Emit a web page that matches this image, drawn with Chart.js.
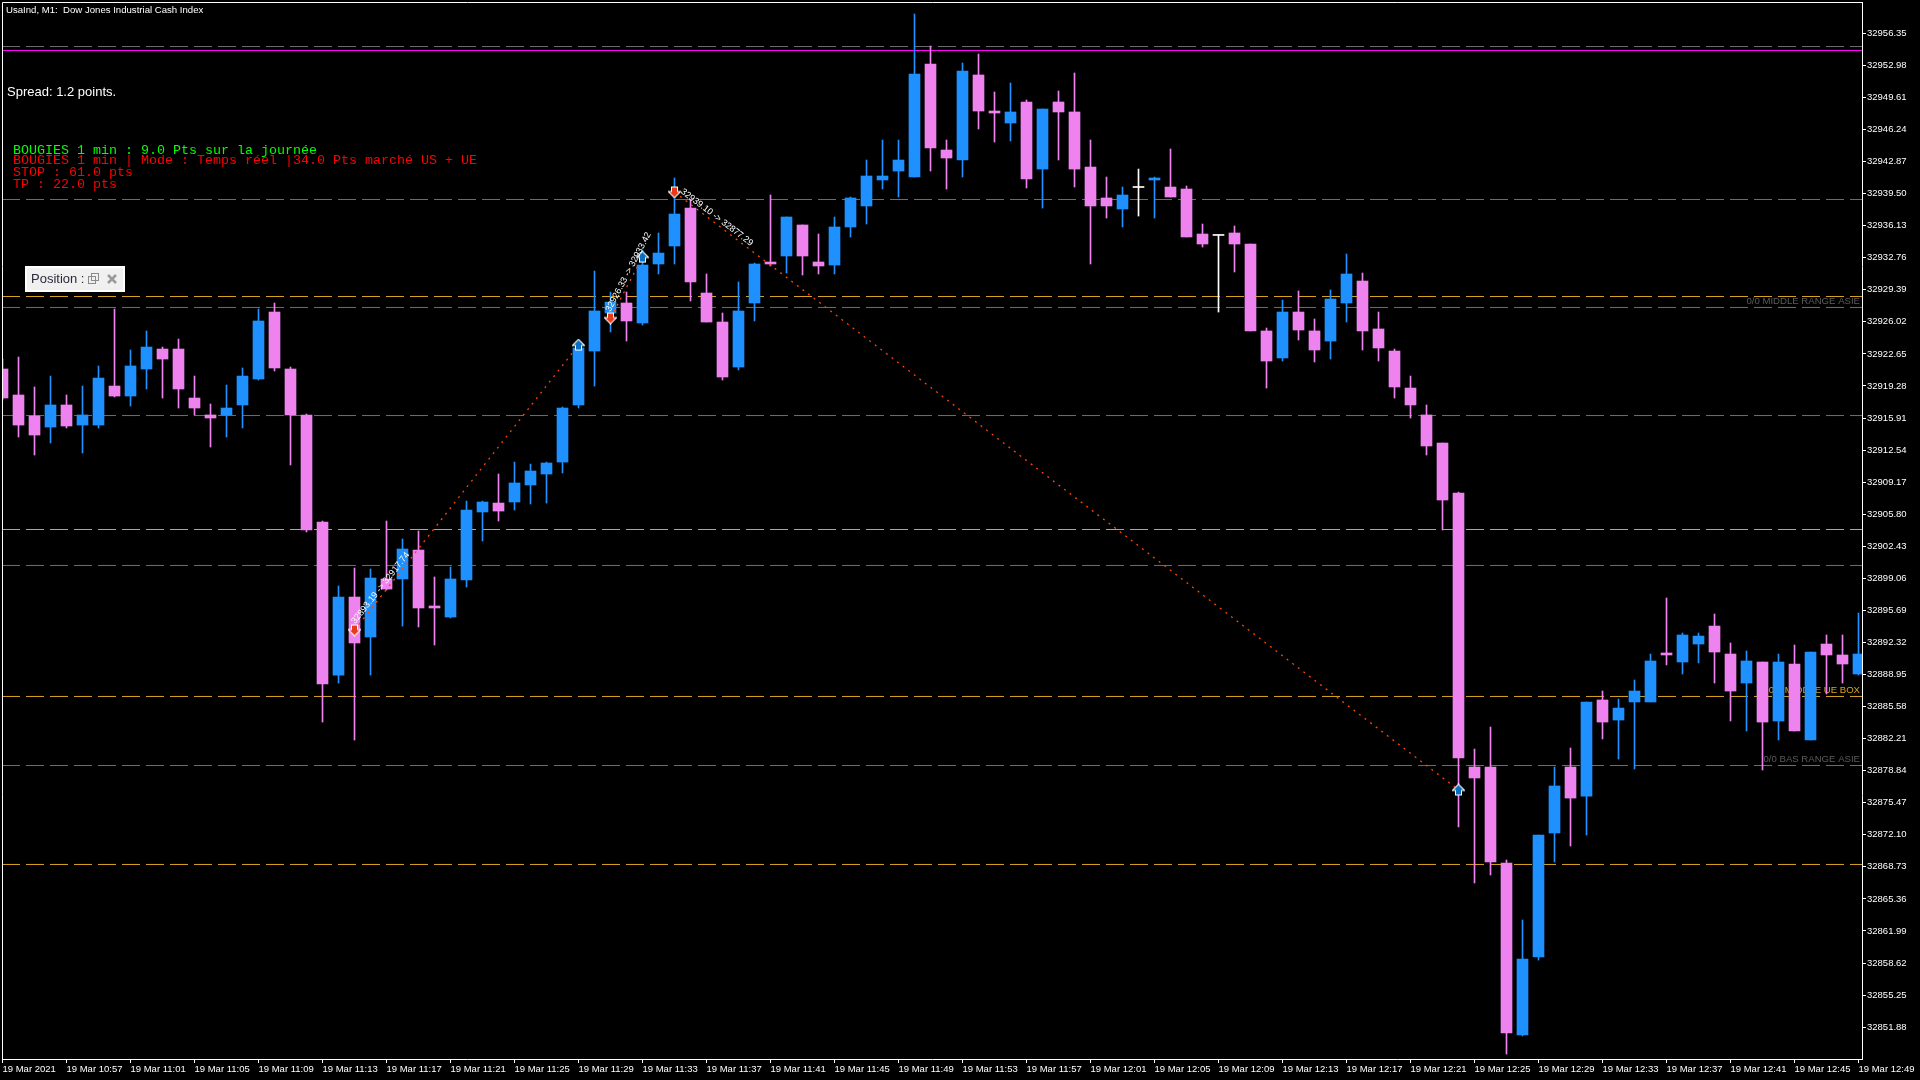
<!DOCTYPE html>
<html>
<head>
<meta charset="utf-8">
<title>UsaInd, M1</title>
<script src="https://cdn.jsdelivr.net/npm/chart.js@4/dist/chart.umd.js"></script>
<style>
  html, body { margin: 0; padding: 0; background: #000; }
  #wrap { width: 1920px; height: 1080px; }
</style>
</head>
<body>
<div id="wrap"><canvas id="myChart" width="1920" height="1080"></canvas></div>
<script>
// one value per minute, 19 Mar 10:53 to 12:49
var opens = [
  32921.06, 32918.33, 32916.12, 32914.96, 32917.28, 32915.17, 32915.17, 32919.27, 32918.22, 32921.06,
  32923.16, 32923.16, 32918.01, 32916.23, 32916.23, 32917.28, 32920.01, 32927.05, 32921.06, 32916.23,
  32904.98, 32888.89, 32897.09, 32892.89, 32898.99, 32898.99, 32902.03, 32896.15, 32894.99, 32898.88,
  32906.03, 32906.97, 32907.08, 32908.87, 32910.02, 32911.28, 32917.28, 32922.95, 32926.95, 32928.00,
  32925.90, 32932.10, 32933.99, 32937.99, 32929.05, 32926.00, 32921.27, 32928.00, 32932.31, 32932.94,
  32936.20, 32932.31, 32931.99, 32935.99, 32938.20, 32940.93, 32941.87, 32941.24, 32953.12, 32944.08,
  32943.03, 32951.97, 32948.18, 32946.92, 32949.13, 32942.08, 32949.13, 32948.08, 32942.29, 32939.04,
  32937.88, 32940.14, 32940.93, 32940.19, 32939.98, 32935.25, 32935.10, 32935.36, 32934.20, 32925.06,
  32922.22, 32927.05, 32925.06, 32924.00, 32928.00, 32930.31, 32925.27, 32922.95, 32919.06, 32916.23,
  32913.28, 32908.03, 32879.22, 32879.22, 32869.13, 32851.05, 32859.25, 32872.29, 32879.22, 32876.17,
  32886.27, 32884.16, 32886.06, 32886.06, 32891.21, 32890.26, 32892.15, 32894.04, 32891.10, 32888.05,
  32890.26, 32884.06, 32890.05, 32882.06, 32892.15, 32891.00, 32889.00
];
var highs = [
  32922.11, 32922.32, 32919.17, 32920.32, 32918.33, 32919.27, 32921.38, 32927.37, 32923.06, 32925.06,
  32923.37, 32924.21, 32920.32, 32917.38, 32919.38, 32921.17, 32927.37, 32928.00, 32921.27, 32916.33,
  32905.08, 32898.25, 32900.14, 32900.04, 32905.08, 32903.19, 32904.03, 32899.20, 32900.25, 32907.18,
  32907.18, 32910.02, 32911.28, 32911.07, 32911.28, 32917.07, 32923.48, 32931.36, 32929.15, 32929.15,
  32933.57, 32935.36, 32941.14, 32938.83, 32931.05, 32926.95, 32930.21, 32932.20, 32939.35, 32937.04,
  32936.20, 32935.25, 32937.04, 32939.14, 32943.03, 32945.13, 32945.13, 32958.38, 32955.01, 32945.13,
  32953.23, 32954.17, 32950.18, 32951.13, 32949.34, 32948.39, 32950.28, 32952.18, 32945.13, 32941.24,
  32940.19, 32942.08, 32941.24, 32944.19, 32940.30, 32936.30, 32935.15, 32936.09, 32934.20, 32925.37,
  32928.31, 32929.26, 32926.32, 32929.37, 32933.15, 32931.15, 32927.05, 32923.16, 32920.32, 32917.28,
  32913.28, 32908.13, 32881.11, 32883.43, 32869.45, 32863.14, 32872.07, 32879.22, 32881.22, 32886.06,
  32887.21, 32886.37, 32888.37, 32891.10, 32896.99, 32893.31, 32893.31, 32895.31, 32892.26, 32891.42,
  32890.26, 32891.10, 32892.05, 32891.31, 32893.10, 32893.10, 32895.41
];
var lows = [
  32917.80, 32913.91, 32912.02, 32913.28, 32914.86, 32912.23, 32914.86, 32918.12, 32917.17, 32918.96,
  32918.01, 32916.96, 32916.23, 32912.86, 32913.91, 32914.86, 32919.90, 32920.85, 32910.97, 32903.93,
  32883.95, 32888.05, 32882.06, 32888.89, 32897.83, 32894.04, 32893.94, 32892.05, 32894.89, 32898.14,
  32902.98, 32905.08, 32906.24, 32906.87, 32906.97, 32910.13, 32916.96, 32919.27, 32924.95, 32924.00,
  32925.69, 32931.05, 32932.10, 32928.21, 32926.00, 32919.90, 32920.96, 32926.11, 32931.89, 32931.15,
  32930.94, 32931.05, 32931.05, 32934.94, 32936.30, 32939.98, 32939.14, 32941.24, 32941.87, 32939.98,
  32941.24, 32946.29, 32944.92, 32945.03, 32940.09, 32937.98, 32943.03, 32940.19, 32932.10, 32936.93,
  32935.99, 32937.14, 32936.93, 32939.14, 32934.94, 32933.88, 32927.05, 32931.26, 32925.06, 32919.06,
  32921.90, 32924.11, 32921.80, 32922.11, 32926.00, 32923.06, 32921.90, 32918.01, 32915.91, 32912.02,
  32904.14, 32872.92, 32867.03, 32867.87, 32849.05, 32850.95, 32858.93, 32869.24, 32870.92, 32872.07,
  32882.17, 32880.06, 32879.01, 32886.06, 32889.95, 32889.00, 32890.16, 32888.05, 32884.06, 32883.01,
  32878.91, 32882.06, 32883.01, 32882.06, 32886.90, 32888.05, 32888.89
];
var closes = [
  32918.01, 32915.17, 32914.12, 32917.28, 32915.07, 32916.23, 32920.11, 32918.22, 32921.38, 32923.37,
  32922.11, 32918.96, 32916.96, 32915.91, 32916.96, 32920.32, 32926.11, 32921.17, 32916.23, 32904.14,
  32887.95, 32897.09, 32892.26, 32899.09, 32897.93, 32902.14, 32895.94, 32895.94, 32898.99, 32906.24,
  32907.08, 32906.13, 32909.08, 32910.34, 32911.18, 32916.96, 32923.27, 32927.16, 32928.10, 32926.11,
  32931.99, 32933.25, 32937.35, 32930.21, 32926.00, 32920.22, 32927.16, 32932.10, 32932.10, 32937.04,
  32932.94, 32931.89, 32935.99, 32939.04, 32941.35, 32941.35, 32943.03, 32952.07, 32944.29, 32943.24,
  32952.39, 32948.18, 32947.97, 32948.08, 32941.03, 32948.39, 32948.08, 32942.08, 32938.20, 32938.20,
  32939.35, 32940.14, 32941.14, 32939.14, 32934.94, 32934.20, 32935.10, 32934.20, 32925.06, 32921.90,
  32927.05, 32925.16, 32923.06, 32928.42, 32931.05, 32925.06, 32923.27, 32919.17, 32917.28, 32912.97,
  32907.29, 32880.17, 32878.07, 32869.24, 32851.26, 32859.04, 32872.07, 32877.23, 32875.96, 32886.06,
  32883.95, 32885.42, 32887.21, 32890.37, 32891.00, 32893.10, 32892.99, 32891.31, 32887.21, 32890.37,
  32883.95, 32890.26, 32883.01, 32891.31, 32891.00, 32890.05, 32891.10
];

// every fourth minute gets a label
var xLabels = [
  "19 Mar 2021", "19 Mar 10:57", "19 Mar 11:01", "19 Mar 11:05", "19 Mar 11:09", "19 Mar 11:13",
  "19 Mar 11:17", "19 Mar 11:21", "19 Mar 11:25", "19 Mar 11:29", "19 Mar 11:33", "19 Mar 11:37",
  "19 Mar 11:41", "19 Mar 11:45", "19 Mar 11:49", "19 Mar 11:53", "19 Mar 11:57", "19 Mar 12:01",
  "19 Mar 12:05", "19 Mar 12:09", "19 Mar 12:13", "19 Mar 12:17", "19 Mar 12:21", "19 Mar 12:25",
  "19 Mar 12:29", "19 Mar 12:33", "19 Mar 12:37", "19 Mar 12:41", "19 Mar 12:45", "19 Mar 12:49"
];
var yTicks = [
  32956.35, 32952.98, 32949.61, 32946.24, 32942.87, 32939.50, 32936.13, 32932.76, 32929.39, 32926.02,
  32922.65, 32919.28, 32915.91, 32912.54, 32909.17, 32905.80, 32902.43, 32899.06, 32895.69, 32892.32,
  32888.95, 32885.58, 32882.21, 32878.84, 32875.47, 32872.10, 32868.73, 32865.36, 32861.99, 32858.62,
  32855.25, 32851.88
];

var greyLevels = [32954.96, 32938.88, 32927.53, 32916.17, 32900.41, 32879.38];
var orangeLevels = [32928.68, 32904.19, 32886.64, 32868.98];
var magentaLevels = [32954.54];

// trades: [minute index, price] in, then out
var tradeOpens = [[22, 32893.62], [38, 32926.42], [42, 32939.67]];
var tradeCloses = [[36, 32923.58], [40, 32932.83], [91, 32876.81]];
var tradeTexts = ["32893.19 -> 32917.74", "32926.33 -> 32933.42", "32939.10 -> 32877.29"];

var BLUE = "#1E90FF";
var PINK = "#EE82EE";
var FONT = '"Liberation Sans", sans-serif';

// half a pixel left of the first candle so the 1px wicks land on whole pixels
var xMin = -0.03125;
var xMax = 116.21875;
var yMin = 32848.53;
var yMax = 32959.64;

function arrow(color, up) {
  var c = document.createElement("canvas");
  c.width = 13;
  c.height = 13;
  var g = c.getContext("2d");
  if (!up) {
    g.translate(0, 13);
    g.scale(1, -1);
  }
  g.beginPath();
  g.moveTo(6.5, 1.5);
  g.lineTo(11.5, 6.5);
  g.lineTo(9, 6.5);
  g.lineTo(9, 11);
  g.lineTo(4, 11);
  g.lineTo(4, 6.5);
  g.lineTo(1.5, 6.5);
  g.closePath();
  g.lineWidth = 2;
  g.strokeStyle = "#fff";
  g.stroke();
  g.fillStyle = color;
  g.fill();
  return c;
}

function candleColor(i) {
  if (opens[i] === closes[i]) return "#fff";
  return closes[i] > opens[i] ? BLUE : PINK;
}

function levelDataset(price, color, dash) {
  return {
    type: "line",
    data: [{ x: xMin, y: price }, { x: xMax, y: price }],
    borderColor: color,
    borderWidth: 1,
    borderDash: dash,
    pointRadius: 0,
    order: 5,
  };
}

var datasets = [];
greyLevels.forEach(function (p) { datasets.push(levelDataset(p, "#6e6e6e", [18, 6])); });
orangeLevels.forEach(function (p) { datasets.push(levelDataset(p, "#DAA520", [18, 6])); });
magentaLevels.forEach(function (p) { datasets.push(levelDataset(p, "#FF00FF", [])); });

datasets.push({
  type: "bar",
  data: opens.map(function (o, i) { return { x: i, y: [lows[i], highs[i]] }; }),
  backgroundColor: opens.map(function (o, i) { return candleColor(i); }),
  barThickness: 1,
  grouped: false,
  order: 2,
});
datasets.push({
  type: "bar",
  data: opens.map(function (o, i) { return { x: i, y: [Math.min(o, closes[i]), Math.max(o, closes[i])] }; }),
  backgroundColor: opens.map(function (o, i) { return candleColor(i); }),
  barThickness: 11,
  minBarLength: 1,
  grouped: false,
  order: 1,
});

tradeOpens.forEach(function (t, i) {
  datasets.push({
    type: "line",
    data: [{ x: t[0], y: t[1] }, { x: tradeCloses[i][0], y: tradeCloses[i][1] }],
    borderColor: "#FF4500",
    borderWidth: 1.3,
    borderDash: [2, 5],
    pointStyle: [arrow("#E8391A", false), arrow("#0A6FC2", true)],
    order: 0,
  });
});

function text(ctx, str, x, y, font, color, align) {
  ctx.font = font;
  ctx.fillStyle = color;
  ctx.textAlign = align || "left";
  ctx.textBaseline = "middle";
  ctx.fillText(str, x, y);
}

// MT4 style object labels, these sit behind the candles
var backLabels = {
  id: "backLabels",
  beforeDatasetsDraw: function (chart) {
    var ctx = chart.ctx;
    ctx.save();
    text(ctx, "0/0 MIDDLE RANGE ASIE", 1860, 301, "9.6px " + FONT, "#5c5c5c", "right");
    text(ctx, "0/0 MIDDLE UE BOX", 1860, 690, "9.6px " + FONT, "#DAA520", "right");
    text(ctx, "0/0 BAS RANGE ASIE", 1860, 759, "9.6px " + FONT, "#5c5c5c", "right");
    ctx.restore();
  },
};

var overlay = {
  id: "overlay",
  afterDraw: function (chart) {
    var ctx = chart.ctx;
    var a = chart.chartArea;
    var xs = chart.scales.x;
    var ys = chart.scales.y;
    ctx.save();

    // frame, the axes only draw right and bottom
    ctx.strokeStyle = "#fff";
    ctx.lineWidth = 1;
    ctx.beginPath();
    ctx.moveTo(a.left + 0.5, a.bottom);
    ctx.lineTo(a.left + 0.5, a.top + 0.5);
    ctx.lineTo(a.right, a.top + 0.5);
    ctx.stroke();

    tradeTexts.forEach(function (s, i) {
      var x0 = xs.getPixelForValue(tradeOpens[i][0]);
      var y0 = ys.getPixelForValue(tradeOpens[i][1]);
      var x1 = xs.getPixelForValue(tradeCloses[i][0]);
      var y1 = ys.getPixelForValue(tradeCloses[i][1]);
      ctx.save();
      ctx.translate(x0, y0);
      ctx.rotate(Math.atan2(y1 - y0, x1 - x0));
      ctx.font = "9px " + FONT;
      ctx.fillStyle = "#fff";
      ctx.textAlign = "left";
      ctx.textBaseline = "bottom";
      ctx.fillText(s, 5, -1);
      ctx.restore();
    });

    text(ctx, "UsaInd, M1:  Dow Jones Industrial Cash Index", 6, 10, "9.6px " + FONT, "#fff");
    text(ctx, "Spread: 1.2 points.", 7, 92, "13px " + FONT, "#fff");

    var mono = '13.33px "Liberation Mono", monospace';
    text(ctx, "BOUGIES 1 min : 9.0 Pts sur la journée", 13, 150, mono, "#00FF00");
    text(ctx, "BOUGIES 1 min | Mode : Temps réel |34.0 Pts marché US + UE", 13, 160, mono, "#FF0000");
    text(ctx, "STOP : 61.0 pts", 13, 172, mono, "#FF0000");
    text(ctx, "TP : 22.0 pts", 13, 184, mono, "#FF0000");

    // the little "Position" panel
    ctx.fillStyle = "#fff";
    ctx.fillRect(25, 266, 100, 26);
    ctx.fillStyle = "#F0F0F0";
    ctx.fillRect(27, 268, 96, 22);
    ctx.save();
    ctx.beginPath();
    ctx.rect(27, 268, 58, 22);
    ctx.clip();
    text(ctx, "Position :", 31, 279, "13px " + FONT, "#2a2a3a");
    ctx.restore();
    ctx.strokeStyle = "#8a8a8a";
    ctx.strokeRect(88.5, 276.5, 7, 7);
    ctx.strokeRect(91.5, 273.5, 7, 7);
    ctx.strokeStyle = "#9a9a9a";
    ctx.lineWidth = 2.5;
    ctx.beginPath();
    ctx.moveTo(108, 275);
    ctx.lineTo(116, 283);
    ctx.moveTo(116, 275);
    ctx.lineTo(108, 283);
    ctx.stroke();
    ctx.restore();
  },
};

// labels may overhang the plot, keep them from pushing it inwards
function noPadding(s) {
  s.paddingLeft = 0;
  s.paddingRight = 0;
  s.paddingTop = 0;
  s.paddingBottom = 0;
}

var ctx = document.getElementById("myChart").getContext("2d");

var chart = new Chart(ctx, {
  type: "bar",
  data: { datasets: datasets },
  plugins: [backLabels, overlay],
  options: {
    responsive: false,
    animation: false,
    devicePixelRatio: 1,
    layout: { autoPadding: false, padding: { left: 2, top: 2 } },
    plugins: { legend: { display: false }, tooltip: { enabled: false } },
    scales: {
      x: {
        type: "linear",
        offset: false,
        min: xMin,
        max: xMax,
        afterBuildTicks: function (s) {
          s.ticks = xLabels.map(function (l, i) { return { value: i * 4 }; });
        },
        afterFit: function (s) { s.height = 21; noPadding(s); },
        border: { color: "#fff" },
        grid: { offset: false, color: "#fff", drawOnChartArea: false, tickLength: 4 },
        ticks: {
          color: "#fff",
          font: { family: FONT, size: 9.5 },
          align: "start",
          padding: 1,
          maxRotation: 0,
          autoSkip: false,
          callback: function (v) { return xLabels[Math.round(v / 4)]; },
        },
      },
      y: {
        position: "right",
        min: yMin,
        max: yMax,
        afterBuildTicks: function (s) {
          s.ticks = yTicks.map(function (v) { return { value: v }; });
        },
        afterFit: function (s) { s.width = 58; noPadding(s); },
        border: { color: "#fff" },
        grid: { color: "#fff", drawOnChartArea: false, tickLength: 4 },
        ticks: {
          color: "#fff",
          font: { family: FONT, size: 9.5 },
          padding: 1,
          autoSkip: false,
          callback: function (v) { return v.toFixed(2); },
        },
      },
    },
  },
});
</script>
</body>
</html>
